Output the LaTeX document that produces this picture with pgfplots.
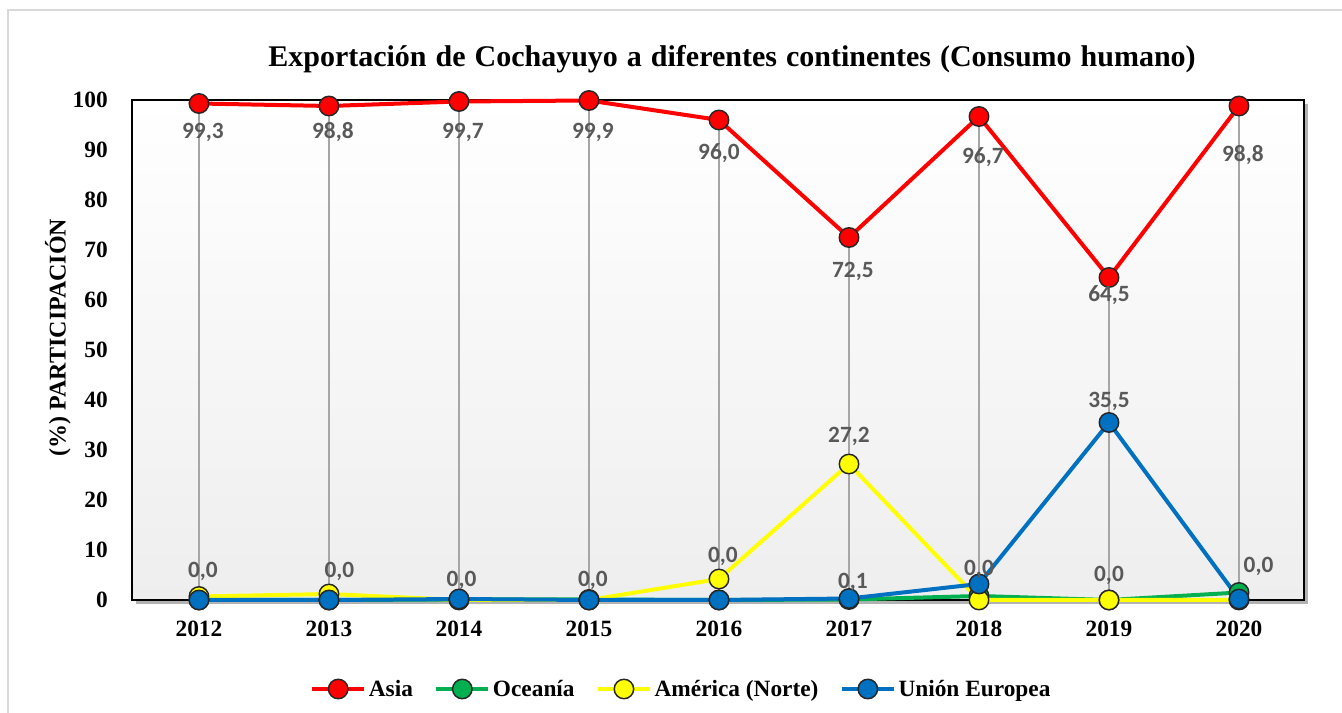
\documentclass[border=0pt]{standalone}
\usepackage{pgfplots}
\pgfplotsset{compat=1.18}
\usepackage{pgfplotstable}
\usepackage{fontspec}
\setmainfont{Liberation Serif}
\newfontfamily\lblfont{Carlito}
\usetikzlibrary{shadows}
\definecolor{cAsia}{HTML}{FF0000}
\definecolor{cOce}{HTML}{00B050}
\definecolor{cAme}{HTML}{FFFF00}
\definecolor{cEU}{HTML}{0070C0}
\definecolor{lblgray}{HTML}{595959}
\definecolor{dropgray}{HTML}{A6A6A6}
\definecolor{framegray}{HTML}{D9D9D9}
\definecolor{bggray}{HTML}{EEEEEE}

\pgfplotstableread{
x Asia Oce Ame EU
0 99.3 0.0 0.7 0.0
1 98.8 0.0 1.2 0.0
2 99.7 0.1 0.0 0.2
3 99.9 0.1 0.0 0.0
4 96.0 0.0 4.2 0.0
5 72.5 0.1 27.2 0.3
6 96.7 0.8 0.0 3.2
7 64.5 0.0 0.0 35.5
8 98.8 1.5 0.0 0.2
}\datatable

\pgfplotstableread{
x y label
0.03 93.6 99,3
1.03 93.6 98,8
2.03 93.6 99,7
3.03 93.6 99,9
4.0 89.4 96,0
5.03 65.8 72,5
6.03 88.6 96,7
7.0 61.0 64,5
8.03 89.0 98,8
0.03 5.7 0,0
1.08 5.7 0,0
2.02 4.0 0,0
3.03 4.0 0,0
4.03 8.7 0,0
5.03 3.5 0,1
6.0 6.1 0,0
7.0 5.0 0,0
8.15 6.8 0,0
5.0 32.8 27,2
7.0 39.8 35,5
}\labeltable

\begin{document}
\begin{tikzpicture}
\begin{axis}[
  at={(0pt,0pt)}, anchor=south west,
  scale only axis, width=879pt, height=375pt,
  xmin=-0.515, xmax=8.5, ymin=0, ymax=100,
  clip=false,
  xtick={0,1,...,8},
  xticklabels={2012,2013,2014,2015,2016,2017,2018,2019,2020},
  ytick={0,10,...,100},
  major tick length=0pt,
  axis line style={black, line width=1.1pt},
  tick label style={font=\fontsize{17.5}{21}\selectfont\bfseries},
  /pgf/number format/assume math mode=true,
  yticklabel style={anchor=east, inner sep=0pt, xshift=-18pt},
  xticklabel style={anchor=north, inner sep=0pt, yshift=-15.75pt},
  title={\spaceskip=0.3em\relax Exportación de Cochayuyo a diferentes continentes (Consumo humano)},
  title style={at={(axis description cs:0.512,1.066)}, anchor=center, font=\fontsize{22.5}{26}\selectfont\bfseries},
  ylabel={(\%) PARTICIPACIÓN},
  ylabel style={at={(axis description cs:-0.0633,0.525)}, anchor=center, font=\fontsize{18}{22}\selectfont\bfseries},
  axis background/.style={shade, top color=white, bottom color=bggray,
    drop shadow={shadow xshift=3pt, shadow yshift=-3pt, opacity=0.3, fill=black}},
  legend style={at={(axis description cs:0.469,-0.178)}, anchor=center, draw=none, fill=none,
    font=\fontsize{17.5}{21}\selectfont\bfseries,
    /tikz/every even column/.append style={column sep=14pt}},
  legend columns=4,
  legend image code/.code={\draw[mark repeat=2,mark phase=2,#1] plot coordinates {(0pt,0pt) (19.5pt,0pt) (39pt,0pt)};},
]
\addplot[cAsia, line width=3pt, mark=*, mark size=7.3pt, mark options={solid, fill=cAsia, draw=black!85, line width=1.1pt}] table[x=x,y=Asia]{\datatable};
\addlegendentry{Asia}
\addplot[cOce, line width=3pt, mark=*, mark size=7.3pt, mark options={solid, fill=cOce, draw=black!85, line width=1.1pt}] table[x=x,y=Oce]{\datatable};
\addlegendentry{Oceanía}
\addplot[cAme, line width=3pt, mark=*, mark size=7.3pt, mark options={solid, fill=cAme, draw=black!85, line width=1.1pt}] table[x=x,y=Ame]{\datatable};
\addlegendentry{América (Norte)}
\addplot[cEU, line width=3pt, mark=*, mark size=7.3pt, mark options={solid, fill=cEU, draw=black!85, line width=1.1pt}] table[x=x,y=EU]{\datatable};
\addlegendentry{Unión Europea}
\addplot[draw=none, mark=none, forget plot, nodes near coords, point meta=explicit symbolic,
  every node near coord/.append style={anchor=center, inner sep=0pt, text=lblgray, font=\lblfont\fontsize{17.5}{21}\selectfont\bfseries}]
  table[x=x,y=y,meta=label]{\labeltable};
\addplot[ycomb, dropgray, line width=0.9pt, mark=none, forget plot] table[x=x,y=Asia]{\datatable};
\end{axis}
\draw[framegray, line width=1.1pt] (-93pt,-90pt) -- (-93pt,442.5pt) -- (920pt,442.5pt);
\pgfresetboundingbox
\useasboundingbox (-99pt,-84.75pt) rectangle (907.5pt,450pt);
\end{tikzpicture}
\end{document}
